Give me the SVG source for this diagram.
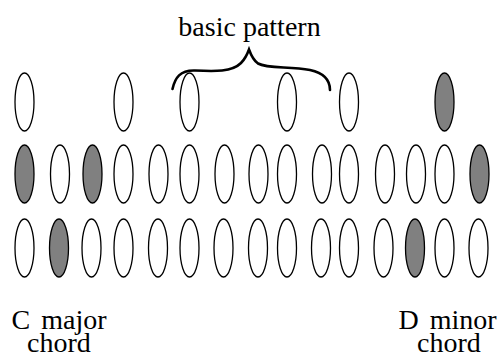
<svg xmlns="http://www.w3.org/2000/svg" width="502" height="360" viewBox="0 0 502 360">
<style>
.k{stroke:#000;stroke-width:1.3;fill:#fff}
.on{fill:#808080}
text{font-family:'Times New Roman','Liberation Serif','DejaVu Serif',serif;font-size:28px;fill:#000;text-anchor:middle}
.brace{fill:none;stroke:#000;stroke-width:2.6;stroke-linecap:round}
</style>
<defs>
<ellipse id="e" rx="9.5" ry="29"/>
</defs>
<rect width="502" height="360" fill="#fff"/>
<g id="top-row">
<use href="#e" x="24.5" y="102" class="k"/>
<use href="#e" x="123.5" y="102" class="k"/>
<use href="#e" x="189.5" y="102" class="k"/>
<use href="#e" x="287" y="102" class="k"/>
<use href="#e" x="349" y="102" class="k"/>
<use href="#e" x="444.5" y="102" class="k on"/>
</g>
<g id="middle-row">
<use href="#e" x="24.5" y="174" class="k on"/>
<use href="#e" x="60" y="174" class="k"/>
<use href="#e" x="92.5" y="174" class="k on"/>
<use href="#e" x="123.5" y="174" class="k"/>
<use href="#e" x="158.5" y="174" class="k"/>
<use href="#e" x="189.5" y="174" class="k"/>
<use href="#e" x="224.5" y="174" class="k"/>
<use href="#e" x="258.5" y="174" class="k"/>
<use href="#e" x="287" y="174" class="k"/>
<use href="#e" x="322" y="174" class="k"/>
<use href="#e" x="349" y="174" class="k"/>
<use href="#e" x="385" y="174" class="k"/>
<use href="#e" x="416" y="174" class="k"/>
<use href="#e" x="444.5" y="174" class="k"/>
<use href="#e" x="479.5" y="174" class="k on"/>
</g>
<g id="bottom-row">
<use href="#e" x="24.5" y="248" class="k"/>
<use href="#e" x="59" y="248" class="k on"/>
<use href="#e" x="91.5" y="248" class="k"/>
<use href="#e" x="123.5" y="248" class="k"/>
<use href="#e" x="158" y="248" class="k"/>
<use href="#e" x="189.5" y="248" class="k"/>
<use href="#e" x="223.5" y="248" class="k"/>
<use href="#e" x="258" y="248" class="k"/>
<use href="#e" x="287" y="248" class="k"/>
<use href="#e" x="321" y="248" class="k"/>
<use href="#e" x="349" y="248" class="k"/>
<use href="#e" x="383.5" y="248" class="k"/>
<use href="#e" x="415" y="248" class="k on"/>
<use href="#e" x="444.5" y="248" class="k"/>
<use href="#e" x="478.5" y="248" class="k"/>
</g>
<g id="brace">
<path class="brace" d="M172.5,89 C175,78 180,70 195,70.5 C215,71.5 232,72 241,63 C245,59 247,55 249,49.5 C251,55 253,60 258,63.5 C268,69 290,66 310,70 C324,73 330,80 330,90"/>
</g>
<g id="labels">
<text x="249.5" y="36">basic pattern</text>
<text x="59" y="328.5" word-spacing="4">C major</text>
<text x="59" y="352">chord</text>
<text x="447.5" y="328.5" word-spacing="4">D minor</text>
<text x="449" y="352">chord</text>
</g>
</svg>
